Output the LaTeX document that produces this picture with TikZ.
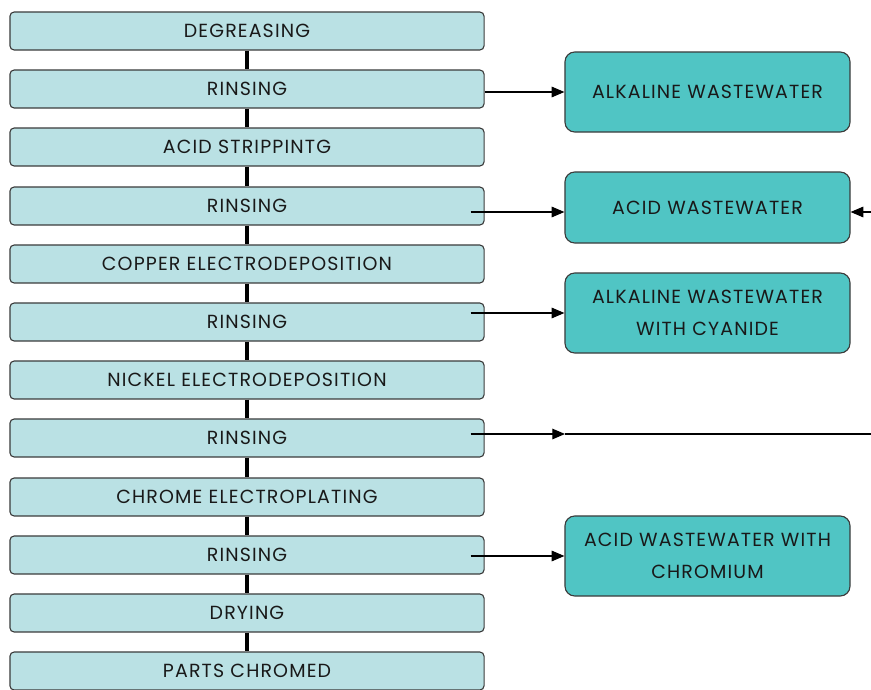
\documentclass[tikz,border=0pt]{standalone}
\usepackage{fontspec}
\setmainfont[LetterSpace=6]{Poppins}
\usepackage{tikz}
\usetikzlibrary{arrows.meta, positioning}
\definecolor{stagefill}{RGB}{186, 225, 228}
\definecolor{wastefill}{RGB}{80, 197, 196}
\definecolor{edgegray}{RGB}{60, 60, 60}

\begin{document}
\begin{tikzpicture}[x=0.025cm, y=-0.025cm,
  stage/.style={draw=edgegray, line width=0.8pt, rounded corners=3pt, fill=stagefill,
    minimum width=11.85cm, minimum height=0.95cm, inner sep=0pt,
    font=\fontsize{13.5}{15}\selectfont, text=black!90},
  waste/.style={draw=edgegray, line width=0.8pt, rounded corners=7pt, fill=wastefill,
    minimum width=7.125cm, minimum height=2cm, align=center, inner sep=0pt,
    font=\fontsize{13.5}{15}\selectfont, text=black!90},
  link/.style={line width=3pt},
  flow/.style={-{Triangle[length=9pt, width=7.5pt]}, line width=0.8pt}]
  \useasboundingbox (0,0) rectangle (871,690);

  % process line
  \node[stage] (degrease) at (247,31)  {DEGREASING};
  \node[stage] (rinse1)   at (247,89)  {RINSING};
  \node[stage] (strip)    at (247,147) {ACID STRIPPINTG};
  \node[stage] (rinse2)   at (247,206) {RINSING};
  \node[stage] (copper)   at (247,264) {COPPER ELECTRODEPOSITION};
  \node[stage] (rinse3)   at (247,322) {RINSING};
  \node[stage] (nickel)   at (247,380) {NICKEL ELECTRODEPOSITION};
  \node[stage] (rinse4)   at (247,438) {RINSING};
  \node[stage] (chrome)   at (247,497) {CHROME ELECTROPLATING};
  \node[stage] (rinse5)   at (247,555) {RINSING};
  \node[stage] (drying)   at (247,613) {DRYING};
  \node[stage] (chromed)  at (247,671) {PARTS CHROMED};

  \draw[link] (degrease) -- (rinse1);
  \draw[link] (rinse1) -- (strip);
  \draw[link] (strip) -- (rinse2);
  \draw[link] (rinse2) -- (copper);
  \draw[link] (copper) -- (rinse3);
  \draw[link] (rinse3) -- (nickel);
  \draw[link] (nickel) -- (rinse4);
  \draw[link] (rinse4) -- (chrome);
  \draw[link] (chrome) -- (rinse5);
  \draw[link] (rinse5) -- (drying);
  \draw[link] (drying) -- (chromed);

  % wastewater streams
  \node[waste] (alkaline) at (707.5,92)  {ALKALINE WASTEWATER};
  \node[waste, minimum height=1.775cm] (acid) at (707.5,207.5) {ACID WASTEWATER};
  \node[waste] (cyanide)  at (707.5,313) {ALKALINE WASTEWATER\\[8pt]WITH CYANIDE};
  \node[waste] (chromium) at (707.5,556) {ACID WASTEWATER WITH\\[8pt]CHROMIUM};

  \coordinate (mid) at (565,434);
  \coordinate (out) at (871,434);
  \coordinate (back) at (871,212);

  \draw[flow] (rinse1.east |- alkaline.west) -- (alkaline.west);
  \draw[flow] ([xshift=-0.35cm]rinse2.east |- back) -- (back -| acid.west);
  \draw[flow] ([xshift=-0.35cm]rinse3.east |- cyanide.west) -- (cyanide.west);
  \draw[flow] ([xshift=-0.35cm]rinse4.east |- mid) -- (mid);
  \draw[line width=0.8pt] (mid) -- (out);
  \draw[flow] ([xshift=-0.35cm]rinse5.east |- chromium.west) -- (chromium.west);
  \draw[flow] (back) -- (back -| acid.east);
\end{tikzpicture}
\end{document}
